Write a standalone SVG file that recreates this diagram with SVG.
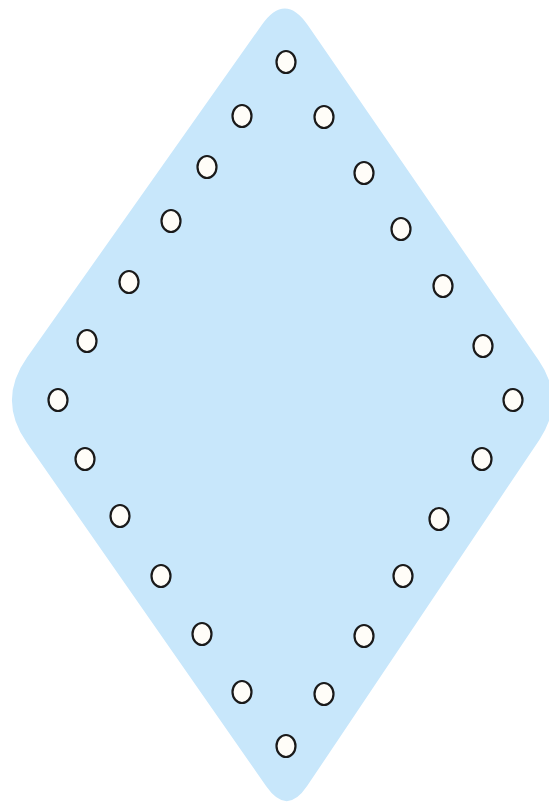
<svg xmlns="http://www.w3.org/2000/svg" width="549" height="806" viewBox="0 0 549 806">
<style>
.bg{fill:#c8e7fb;stroke:none}
.pt{fill:#fffdf8;stroke:#1a1a1a;stroke-width:2.2}
</style>
<defs><ellipse id="c" cx="0" cy="0" rx="9.5" ry="11" class="pt"/></defs>
<rect width="549" height="806" fill="#ffffff"/>
<g id="diamond">
<path class="bg" d="M261.9,24.7 Q285,-8 307.7,25 L538.8,360.5 Q566,400 539.3,439.9 L307.1,786.1 Q287,816 266.4,786.5 L26.7,442.6 Q-3,400 27,357.5 Z"/>
</g>
<g id="nodes">
<g id="n1"><use href="#c" x="286" y="62"/></g>
<g id="n2"><use href="#c" x="242" y="116"/></g>
<g id="n3"><use href="#c" x="324" y="117"/></g>
<g id="n4"><use href="#c" x="207" y="167"/></g>
<g id="n5"><use href="#c" x="364" y="173"/></g>
<g id="n6"><use href="#c" x="171" y="221"/></g>
<g id="n7"><use href="#c" x="401" y="229"/></g>
<g id="n8"><use href="#c" x="129" y="282"/></g>
<g id="n9"><use href="#c" x="443" y="286"/></g>
<g id="n10"><use href="#c" x="87" y="341"/></g>
<g id="n11"><use href="#c" x="483" y="346"/></g>
<g id="n12"><use href="#c" x="58" y="400"/></g>
<g id="n13"><use href="#c" x="513" y="400"/></g>
<g id="n14"><use href="#c" x="85" y="459"/></g>
<g id="n15"><use href="#c" x="482" y="459"/></g>
<g id="n16"><use href="#c" x="120" y="516"/></g>
<g id="n17"><use href="#c" x="439" y="519"/></g>
<g id="n18"><use href="#c" x="161" y="576"/></g>
<g id="n19"><use href="#c" x="403" y="576"/></g>
<g id="n20"><use href="#c" x="202" y="634"/></g>
<g id="n21"><use href="#c" x="364" y="636"/></g>
<g id="n22"><use href="#c" x="242" y="692"/></g>
<g id="n23"><use href="#c" x="324" y="694"/></g>
<g id="n24"><use href="#c" x="286" y="746"/></g>
</g>
<g id="connectors"/>
</svg>
